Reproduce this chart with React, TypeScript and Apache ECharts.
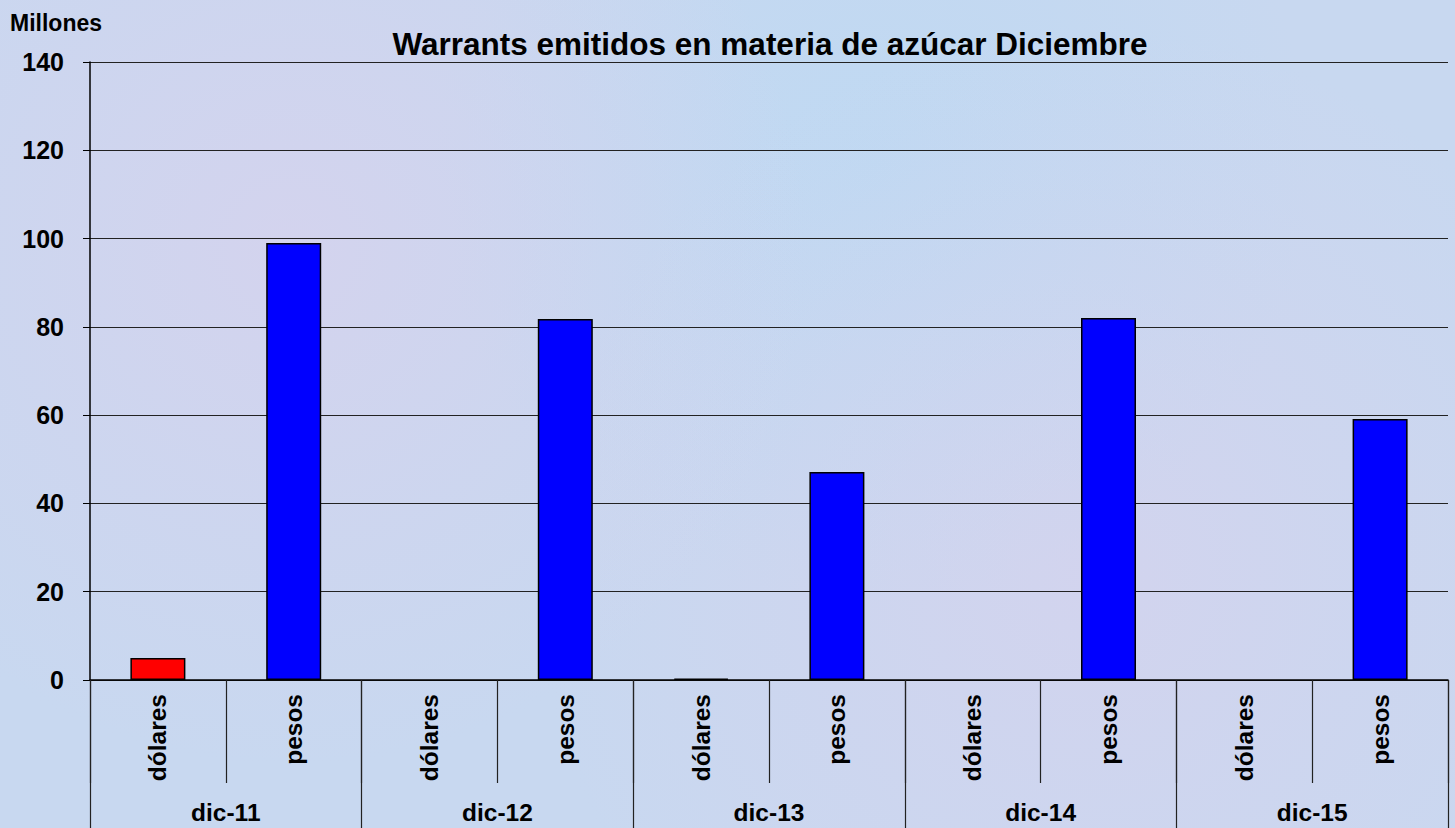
import React, { useEffect, useRef } from "react";
import * as echarts from "echarts";

const groups = ["dic-11", "dic-12", "dic-13", "dic-14", "dic-15"];
const currencies = ["dólares", "pesos"];
const dolares = [5.0, 0, 0.3, 0, 0];
const pesos = [99.0, 81.8, 47.1, 82.0, 59.1];
const yTicks = [0, 20, 40, 60, 80, 100, 120, 140];
const currencyColors = ["#ff0000", "#0000ff"];

const FONT = 'Arial, "Liberation Sans", sans-serif';

export default function App() {
  const ref = useRef<HTMLDivElement>(null);
  useEffect(() => {
    document.body.style.margin = "0";
    if (!ref.current) return;
    const chart = echarts.init(ref.current, undefined, { renderer: "svg" });
    const inner: string[] = [];
    const values: any[] = [];
    groups.forEach((g, i) => {
      currencies.forEach((c, j) => {
        inner.push(c);
        const v = j === 0 ? dolares[i] : pesos[i];
        values.push({
          value: v,
          itemStyle: {
            color: currencyColors[j],
            borderWidth: v === 0 ? 0 : 1.5,
            opacity: v === 0 ? 0 : 1,
          },
        });
      });
    });
    chart.setOption({
      animation: false,
      backgroundColor: "transparent",
      title: {
        text: "Warrants emitidos en materia de azúcar Diciembre",
        left: 765,
        textAlign: "center",
        top: 23,
        textStyle: { fontFamily: FONT, fontWeight: "bold", fontSize: 31.5, color: "#000" },
      },
      graphic: [
        {
          type: "text",
          left: 10,
          top: 11,
          style: { text: "Millones", font: `bold 23px ${FONT}`, fill: "#000" },
        },
      ],
      grid: { left: 90, right: 7, top: 62, bottom: 148, containLabel: false },
      xAxis: [
        {
          type: "category",
          data: inner,
          position: "bottom",
          axisLine: { show: true, lineStyle: { color: "#000", width: 1.5 } },
          axisTick: { show: true, length: 103, interval: 0, lineStyle: { color: "#222", width: 1.2 } },
          axisLabel: {
            interval: 0,
            rotate: 90,
            margin: 14,
            fontFamily: FONT,
            fontWeight: "bold",
            fontSize: 24.5,
            color: "#000",
          },
          splitLine: { show: false },
        },
        {
          type: "category",
          data: groups,
          position: "bottom",
          axisLine: { show: false },
          axisTick: { show: true, length: 148, interval: 0, lineStyle: { color: "#222", width: 1.2 } },
          axisLabel: {
            interval: 0,
            margin: 120,
            fontFamily: FONT,
            fontWeight: "bold",
            fontSize: 24.5,
            color: "#000",
          },
        },
      ],
      yAxis: {
        type: "value",
        min: yTicks[0],
        max: yTicks[yTicks.length - 1],
        interval: 20,
        axisLine: { show: true, lineStyle: { color: "#000", width: 1.5 } },
        axisTick: { show: true, length: 7, lineStyle: { color: "#000" } },
        axisLabel: {
          margin: 26,
          fontFamily: FONT,
          fontWeight: "bold",
          fontSize: 25,
          color: "#000",
        },
        splitLine: { show: true, lineStyle: { color: "#222", width: 1 } },
      },
      series: [
        {
          type: "bar",
          xAxisIndex: 0,
          data: values,
          barWidth: 55,
          itemStyle: { borderColor: "#000", borderWidth: 1.5 },
        },
      ],
    });
    return () => chart.dispose();
  }, []);
  return (
    <div
      ref={ref}
      style={{
        position: "absolute",
        left: 0,
        top: 0,
        width: 1455,
        height: 828,
        background:
          "radial-gradient(circle at 20% 30%, rgba(225,205,235,0.45), transparent 40%), radial-gradient(circle at 75% 70%, rgba(225,205,235,0.4), transparent 45%), radial-gradient(circle at 60% 20%, rgba(180,218,245,0.45), transparent 40%), #c8d8f0",
      }}
    />
  );
}
